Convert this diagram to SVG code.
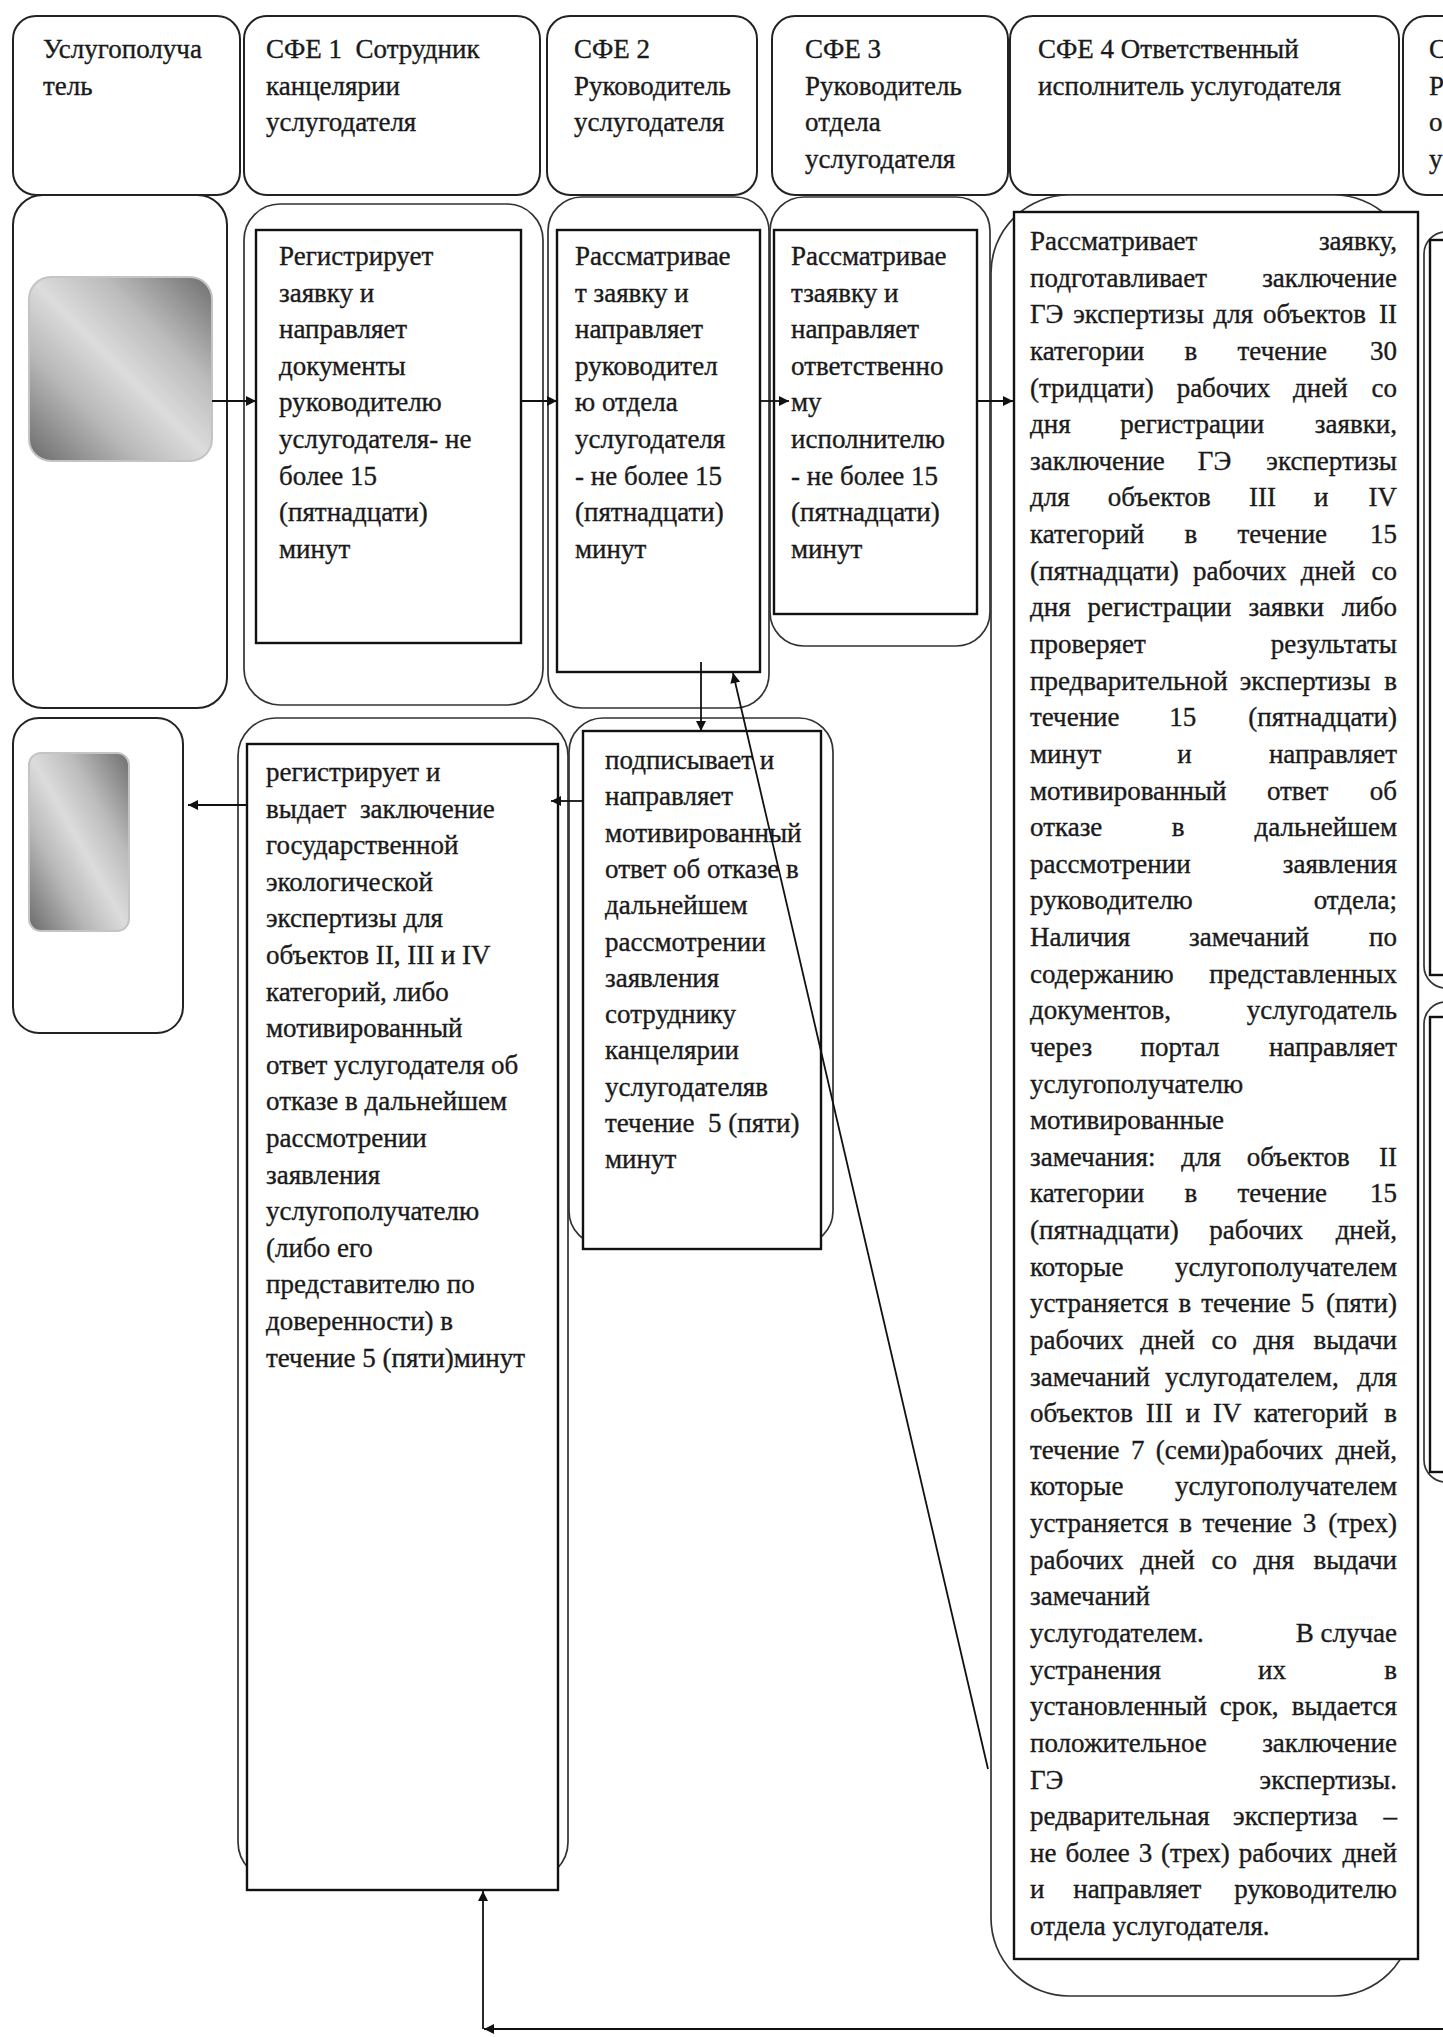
<svg xmlns="http://www.w3.org/2000/svg" width="1443" height="2037" viewBox="0 0 1443 2037">
<style>
.box{fill:#fff;stroke:#222;stroke-width:2}
.outer{fill:#fff;stroke:#333;stroke-width:1.7}
.inner{fill:#fff;stroke:#111;stroke-width:2.4}
.grad{stroke:#c4c4c4;stroke-width:2}
text{font-family:"Liberation Serif","Times New Roman",serif;font-size:27px;fill:#1a1a1a;stroke:#1a1a1a;stroke-width:0.35px}
.r{text-anchor:end}
.m{text-anchor:middle}
.conn{stroke:#111;stroke-width:1.8;fill:none}
</style>
<defs>
<linearGradient id="g1" x1="0" y1="1" x2="1" y2="0">
<stop offset="0" stop-color="#6a6a6a"/>
<stop offset="0.3" stop-color="#b8b8b8"/>
<stop offset="0.5" stop-color="#dcdcdc"/>
<stop offset="0.7" stop-color="#bcbcbc"/>
<stop offset="1" stop-color="#6e6e6e"/>
</linearGradient>
<marker id="ah" viewBox="0 0 10 10" refX="10" refY="5" markerWidth="12" markerHeight="10" markerUnits="userSpaceOnUse" orient="auto">
<path d="M0,0 L10,5 L0,10 z" fill="#111"/>
</marker>
</defs>
<rect width="1443" height="2037" fill="#fff"/>

<!-- Header row -->
<g id="h-client">
<rect class="box" x="13" y="16" width="227" height="179" rx="23"/>
<text x="43" y="58">Услугополуча</text>
<text x="43" y="94.6">тель</text>
</g>
<g id="h-sfe1">
<rect class="box" x="244" y="16" width="296" height="179" rx="23"/>
<text x="266" y="58">СФЕ 1 &#160;Сотрудник</text>
<text x="266" y="94.6">канцелярии</text>
<text x="266" y="131.2">услугодателя</text>
</g>
<g id="h-sfe2">
<rect class="box" x="547" y="16" width="210" height="179" rx="23"/>
<text x="574" y="58">СФЕ 2</text>
<text x="574" y="94.6">Руководитель</text>
<text x="574" y="131.2">услугодателя</text>
</g>
<g id="h-sfe3">
<rect class="box" x="772" y="16" width="236" height="179" rx="23"/>
<text x="805" y="58">СФЕ 3</text>
<text x="805" y="94.6">Руководитель</text>
<text x="805" y="131.2">отдела</text>
<text x="805" y="167.8">услугодателя</text>
</g>
<g id="h-sfe4">
<rect class="box" x="1010" y="16" width="389" height="179" rx="23"/>
<text x="1038" y="58">СФЕ 4 Ответственный</text>
<text x="1038" y="94.6">исполнитель услугодателя</text>
</g>
<g id="h-sfe5">
<rect class="box" x="1403" y="16" width="100" height="179" rx="23"/>
<text x="1429" y="58">С</text>
<text x="1429" y="94.6">Р</text>
<text x="1429" y="131.2">о</text>
<text x="1429" y="167.8">у</text>
</g>

<!-- Row 2 -->
<g id="client-start">
<rect class="box" x="13" y="195" width="214" height="513" rx="30"/>
<rect class="grad" x="29" y="277" width="183" height="184" rx="22" fill="url(#g1)"/>
</g>
<g id="sfe1-register">
<rect class="outer" x="244" y="204" width="299" height="501" rx="36"/>
<rect class="inner" x="256" y="230" width="265" height="413"/>
<text x="279" y="265">Регистрирует</text>
<text x="279" y="301.6">заявку и</text>
<text x="279" y="338.2">направляет</text>
<text x="279" y="374.8">документы</text>
<text x="279" y="411.4">руководителю</text>
<text x="279" y="448">услугодателя- не</text>
<text x="279" y="484.6">более 15</text>
<text x="279" y="521.2">(пятнадцати)</text>
<text x="279" y="557.8">минут</text>
</g>
<g id="sfe2-review">
<rect class="outer" x="548" y="197" width="221" height="511" rx="34"/>
<rect class="inner" x="557" y="230" width="203" height="442"/>
<text x="575" y="265">Рассматривае</text>
<text x="575" y="301.6">т заявку и</text>
<text x="575" y="338.2">направляет</text>
<text x="575" y="374.8">руководител</text>
<text x="575" y="411.4">ю отдела</text>
<text x="575" y="448">услугодателя</text>
<text x="575" y="484.6">- не более 15</text>
<text x="575" y="521.2">(пятнадцати)</text>
<text x="575" y="557.8">минут</text>
</g>
<g id="sfe3-review">
<rect class="outer" x="770" y="197" width="220" height="449" rx="34"/>
<rect class="inner" x="774" y="230" width="203" height="384"/>
<text x="791" y="265">Рассматривае</text>
<text x="791" y="301.6">тзаявку и</text>
<text x="791" y="338.2">направляет</text>
<text x="791" y="374.8">ответственно</text>
<text x="791" y="411.4">му</text>
<text x="791" y="448">исполнителю</text>
<text x="791" y="484.6">- не более 15</text>
<text x="791" y="521.2">(пятнадцати)</text>
<text x="791" y="557.8">минут</text>
</g>
<g id="sfe4-process">
<rect class="outer" x="991" y="195" width="421" height="1801" rx="78"/>
<rect class="inner" x="1014" y="212" width="404" height="1747"/>
<text x="1030" y="250">Рассматривает</text><text class="r" x="1397" y="250">заявку,</text>
<text x="1030" y="286.6">подготавливает</text><text class="r" x="1397" y="286.6">заключение</text>
<text x="1030" y="323.3" word-spacing="3">ГЭ экспертизы для объектов</text><text class="r" x="1397" y="323.3">II</text>
<text x="1030" y="359.9" word-spacing="33.6">категории в течение</text><text class="r" x="1397" y="359.9">30</text>
<text x="1030" y="396.5" word-spacing="16.1">(тридцати) рабочих дней</text><text class="r" x="1397" y="396.5">со</text>
<text x="1030" y="433.2" word-spacing="42.9">дня регистрации</text><text class="r" x="1397" y="433.2">заявки,</text>
<text x="1030" y="469.8" word-spacing="26.2">заключение ГЭ</text><text class="r" x="1397" y="469.8">экспертизы</text>
<text x="1030" y="506.4" word-spacing="31.4">для объектов III и</text><text class="r" x="1397" y="506.4">IV</text>
<text x="1030" y="543" word-spacing="33.6">категорий в течение</text><text class="r" x="1397" y="543">15</text>
<text x="1030" y="579.7" word-spacing="7.4">(пятнадцати) рабочих дней</text><text class="r" x="1397" y="579.7">со</text>
<text x="1030" y="616.3" word-spacing="10.2">дня регистрации заявки</text><text class="r" x="1397" y="616.3">либо</text>
<text x="1030" y="652.9">проверяет</text><text class="r" x="1397" y="652.9">результаты</text>
<text x="1030" y="689.6" word-spacing="5.4">предварительной экспертизы</text><text class="r" x="1397" y="689.6">в</text>
<text x="1030" y="726.2" word-spacing="43">течение 15</text><text class="r" x="1397" y="726.2">(пятнадцати)</text>
<text x="1030" y="762.8" word-spacing="69.2">минут и</text><text class="r" x="1397" y="762.8">направляет</text>
<text x="1030" y="799.5" word-spacing="33.6">мотивированный ответ</text><text class="r" x="1397" y="799.5">об</text>
<text x="1030" y="836.1" word-spacing="62.7">отказе в</text><text class="r" x="1397" y="836.1">дальнейшем</text>
<text x="1030" y="872.7">рассмотрении</text><text class="r" x="1397" y="872.7">заявления</text>
<text x="1030" y="909.3">руководителю</text><text class="r" x="1397" y="909.3">отдела;</text>
<text x="1030" y="946" word-spacing="52.2">Наличия замечаний</text><text class="r" x="1397" y="946">по</text>
<text x="1030" y="982.6">содержанию</text><text class="r" x="1397" y="982.6">представленных</text>
<text x="1030" y="1019.2">документов,</text><text class="r" x="1397" y="1019.2">услугодатель</text>
<text x="1030" y="1055.9" word-spacing="41.8">через портал</text><text class="r" x="1397" y="1055.9">направляет</text>
<text x="1030" y="1092.5">услугополучателю</text>
<text x="1030" y="1129.1">мотивированные</text>
<text x="1030" y="1165.8" word-spacing="19.1">замечания: для объектов</text><text class="r" x="1397" y="1165.8">II</text>
<text x="1030" y="1202.4" word-spacing="33.6">категории в течение</text><text class="r" x="1397" y="1202.4">15</text>
<text x="1030" y="1239" word-spacing="23.8">(пятнадцати) рабочих</text><text class="r" x="1397" y="1239">дней,</text>
<text x="1030" y="1275.6">которые</text><text class="r" x="1397" y="1275.6">услугополучателем</text>
<text x="1030" y="1312.3" word-spacing="3.2">устраняется в течение 5</text><text class="r" x="1397" y="1312.3">(пяти)</text>
<text x="1030" y="1348.9" word-spacing="9.9">рабочих дней со дня</text><text class="r" x="1397" y="1348.9">выдачи</text>
<text x="1030" y="1385.5" word-spacing="8.3">замечаний услугодателем,</text><text class="r" x="1397" y="1385.5">для</text>
<text x="1030" y="1422.2" word-spacing="6.1">объектов III и IV категорий</text><text class="r" x="1397" y="1422.2">в</text>
<text x="1030" y="1458.8" word-spacing="4.6">течение 7 (семи)рабочих</text><text class="r" x="1397" y="1458.8">дней,</text>
<text x="1030" y="1495.4">которые</text><text class="r" x="1397" y="1495.4">услугополучателем</text>
<text x="1030" y="1532.1" word-spacing="3.9">устраняется в течение 3</text><text class="r" x="1397" y="1532.1">(трех)</text>
<text x="1030" y="1568.7" word-spacing="9.9">рабочих дней со дня</text><text class="r" x="1397" y="1568.7">выдачи</text>
<text x="1030" y="1605.3">замечаний</text>
<text x="1030" y="1641.9">услугодателем.</text><text class="r" x="1397" y="1641.9">В случае</text>
<text x="1030" y="1678.6">устранения</text><text class="m" x="1272" y="1678.6">их</text><text class="r" x="1397" y="1678.6">в</text>
<text x="1030" y="1715.2" word-spacing="6.1">установленный срок,</text><text class="r" x="1397" y="1715.2">выдается</text>
<text x="1030" y="1751.8">положительное</text><text class="r" x="1397" y="1751.8">заключение</text>
<text x="1030" y="1788.5">ГЭ</text><text class="r" x="1397" y="1788.5">экспертизы.</text>
<text x="1030" y="1825.1" word-spacing="16.7">редварительная экспертиза</text><text class="r" x="1397" y="1825.1">–</text>
<text x="1030" y="1861.7" word-spacing="2.2">не более 3 (трех) рабочих</text><text class="r" x="1397" y="1861.7">дней</text>
<text x="1030" y="1898.4" word-spacing="22">и направляет</text><text class="r" x="1397" y="1898.4">руководителю</text>
<text x="1030" y="1935">отдела услугодателя.</text>
</g>
<g id="sfe5-partial">
<rect class="outer" x="1424" y="232" width="100" height="756" rx="22"/>
<rect class="inner" x="1430" y="240" width="100" height="735"/>
<rect class="outer" x="1424" y="1002" width="100" height="480" rx="22"/>
<rect class="inner" x="1430" y="1017" width="100" height="455"/>
</g>

<!-- Row 3 -->
<g id="client-result">
<rect class="box" x="13" y="718" width="170" height="315" rx="26"/>
<rect class="grad" x="29" y="753" width="100" height="178" rx="12" fill="url(#g1)"/>
</g>
<g id="sfe1-issue">
<rect class="outer" x="238" y="718" width="330" height="1162" rx="38"/>
<rect class="inner" x="247" y="744" width="311" height="1146"/>
<text x="266" y="781">регистрирует и</text>
<text x="266" y="817.6">выдает &#160;заключение</text>
<text x="266" y="854.2">государственной</text>
<text x="266" y="890.8">экологической</text>
<text x="266" y="927.4">экспертизы для</text>
<text x="266" y="964">объектов II, III и IV</text>
<text x="266" y="1000.6">категорий, либо</text>
<text x="266" y="1037.2">мотивированный</text>
<text x="266" y="1073.8">ответ услугодателя об</text>
<text x="266" y="1110.4">отказе в дальнейшем</text>
<text x="266" y="1147">рассмотрении</text>
<text x="266" y="1183.6">заявления</text>
<text x="266" y="1220.2">услугополучателю</text>
<text x="266" y="1256.8">(либо его</text>
<text x="266" y="1293.4">представителю по</text>
<text x="266" y="1330">доверенности) в</text>
<text x="266" y="1366.6">течение 5 (пяти)минут</text>
</g>
<g id="sfe2-sign">
<rect class="outer" x="569" y="718" width="264" height="527" rx="34"/>
<rect class="inner" x="583" y="731" width="238" height="518"/>
<text x="605" y="769">подписывает и</text>
<text x="605" y="805.3">направляет</text>
<text x="605" y="841.6">мотивированный</text>
<text x="605" y="877.9">ответ об отказе в</text>
<text x="605" y="914.2">дальнейшем</text>
<text x="605" y="950.5">рассмотрении</text>
<text x="605" y="986.8">заявления</text>
<text x="605" y="1023.1">сотруднику</text>
<text x="605" y="1059.4">канцелярии</text>
<text x="605" y="1095.7">услугодателяв</text>
<text x="605" y="1132">течение &#160;5 (пяти)</text>
<text x="605" y="1168.3">минут</text>
</g>

<!-- Connectors -->
<g id="connectors" class="conn">
<path d="M212,401 L256,401" marker-end="url(#ah)"/>
<path d="M521,401 L557,401" marker-end="url(#ah)"/>
<path d="M760,401 L789,401" marker-end="url(#ah)"/>
<path d="M977,401 L1013,401" marker-end="url(#ah)"/>
<path d="M701,662 L701,731" marker-end="url(#ah)"/>
<path d="M583,801 L551,801" marker-end="url(#ah)"/>
<path d="M247,805 L188,805" marker-end="url(#ah)"/>
<path d="M988,1769 L733,673" marker-end="url(#ah)"/>
<path d="M1443,2029 L484,2029" marker-end="url(#ah)"/>
<path d="M483,2029 L483,1891" marker-end="url(#ah)"/>
</g>
</svg>
